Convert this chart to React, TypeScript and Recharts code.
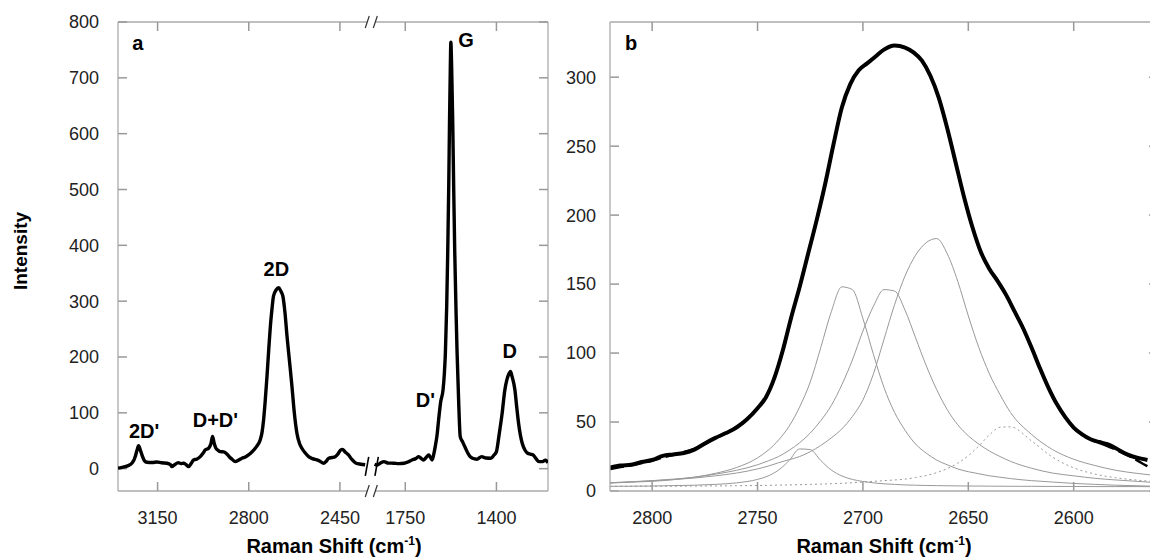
import React from "react";
import { LineChart, Line, XAxis, YAxis, ReferenceLine, ReferenceDot } from "recharts";

// ---------- panel a : full spectrum, x axis broken between ~2350 and ~1870 cm-1
const aHighShift = [3302, 3290, 3274, 3260, 3249, 3240, 3236, 3229, 3223, 3216, 3210, 3200, 3191, 3170, 3153, 3135, 3114, 3100, 3095, 3085, 3070, 3060, 3050, 3040, 3031, 3020, 3012, 3000, 2986, 2975, 2967, 2954, 2945, 2939, 2933, 2926, 2918, 2909, 2896, 2884, 2874, 2864, 2852, 2840, 2826, 2813, 2801, 2788, 2775, 2765, 2756, 2749, 2743, 2737, 2730, 2723, 2717, 2711, 2705, 2695, 2685, 2677, 2669, 2661, 2653, 2643, 2634, 2625, 2615, 2605, 2596, 2583, 2570, 2555, 2538, 2525, 2513, 2503, 2493, 2480, 2468, 2458, 2448, 2440, 2430, 2417, 2405, 2388, 2370, 2353];
const aHighInt = [1, 2, 3.6, 6, 9.7, 16, 21.5, 33, 41, 33, 24.6, 14, 11.5, 11, 12, 10.5, 9.7, 7, 3.6, 7, 10.8, 9, 9.7, 7, 3.6, 10, 15.6, 17, 21.5, 28, 33.6, 36.6, 45, 57.5, 46, 36.6, 33, 30.5, 30, 26.4, 21, 16.9, 12.6, 15, 18.7, 21, 24.6, 30, 36.6, 43, 51.5, 65, 87.4, 120, 165, 215, 255, 285, 309, 320, 324, 318, 309, 280, 237, 190, 147, 100, 63.5, 45, 36.6, 28, 21.5, 18, 15.6, 13, 9.7, 13, 18.7, 20, 21.5, 26, 33, 34.5, 30, 24.6, 17, 9.7, 8, 7];

const aLowShift = [1868, 1858, 1845, 1832, 1815, 1794, 1775, 1755, 1740, 1724, 1710, 1698, 1688, 1679, 1670, 1660, 1653, 1647, 1641, 1635, 1628, 1622, 1614, 1605, 1600, 1596, 1591, 1587, 1583, 1580, 1577, 1575, 1572, 1568, 1564, 1560, 1555, 1551, 1545, 1539, 1530, 1520, 1510, 1501, 1492, 1475, 1457, 1440, 1421, 1410, 1400, 1390, 1378, 1368, 1360, 1352, 1346, 1340, 1329, 1322, 1315, 1308, 1301, 1290, 1280, 1270, 1259, 1248, 1237, 1223, 1212, 1202];
const aLowInt = [8, 6.6, 10, 12.6, 10, 9.7, 9, 9.7, 12, 15.6, 18, 21.5, 18, 15.6, 20, 24.6, 20, 15.6, 25, 39.5, 60, 87.4, 120, 141, 170, 207, 290, 387, 510, 626, 720, 764, 720, 626, 500, 387, 280, 207, 120, 57.5, 48, 38, 28, 21.5, 18.7, 17, 21.5, 19, 18.7, 24, 30.5, 60, 99.5, 140, 159, 170, 174, 165, 141, 110, 81.5, 60, 45.6, 33, 27.6, 26, 24.6, 18, 12.6, 12.6, 15, 10.8];

const aXTicks = [3150, 2800, 2450, 1750, 1400];
const aYTicks = [0, 100, 200, 300, 400, 500, 600, 700, 800];

const aLabels = [
  { text: "a", shift: 3226, value: 762 },
  { text: "2D'", shift: 3202, value: 68 },
  { text: "D+D'", shift: 2928, value: 87 },
  { text: "2D", shift: 2694, value: 358 },
  { text: "D'", shift: 1673, value: 123 },
  { text: "G", shift: 1517, value: 768 },
  { text: "D", shift: 1349, value: 211 },
];

// ---------- panel b : 2D band and its fitted components
const bShift = [2820, 2815, 2810, 2805, 2800, 2795, 2790, 2785, 2780, 2775, 2770, 2765, 2760, 2755, 2750, 2746, 2742, 2738, 2734, 2730, 2726, 2722, 2718, 2714, 2710, 2706, 2702, 2698, 2694, 2690, 2685, 2680, 2676, 2672, 2668, 2664, 2660, 2656, 2652, 2648, 2644, 2640, 2636, 2632, 2628, 2624, 2620, 2616, 2612, 2608, 2604, 2600, 2596, 2592, 2588, 2584, 2580, 2576, 2572, 2568, 2565];
const bData = [17, 18.5, 19, 21, 22.5, 25.5, 26.5, 27.5, 30, 34.5, 38.5, 42, 46, 52, 60, 68, 82, 102, 126, 148, 172, 196, 222, 251, 278, 295, 305, 310, 315, 320, 323, 321.5, 318, 312, 301, 285, 263, 238, 213, 191, 173, 161, 152, 142, 130, 118, 104, 89, 75, 63, 53.5, 46, 41, 37.5, 35.5, 34, 31, 27.5, 25, 23.5, 22.5];
const bFit = [16, 17.3, 18.6, 20.2, 22, 24.2, 26.2, 28.3, 30.5, 34, 38.5, 42, 46.5, 52, 60, 68, 82, 102, 126, 148, 172, 196, 222, 251, 278, 295, 305, 310, 315, 320, 323, 321.5, 318, 312, 301, 285, 263, 238, 213, 191, 173, 161, 152, 142, 130, 118, 104, 89, 75, 63, 53.5, 46, 41, 37.5, 35, 32.5, 30, 27, 24, 20.5, 18];

const compShift = [2820, 2810, 2800, 2790, 2780, 2770, 2760, 2750, 2745, 2740, 2735, 2730, 2725, 2720, 2715, 2710, 2705, 2700, 2695, 2690, 2685, 2680, 2675, 2670, 2665, 2660, 2655, 2650, 2645, 2640, 2635, 2630, 2620, 2610, 2600, 2590, 2580, 2570, 2560];
const peak2727 = [3.4, 3.5, 3.6, 3.9, 4.2, 4.8, 5.9, 8.4, 10.9, 15.2, 22.1, 30.5, 30, 22.1, 15.2, 10.9, 8.4, 6.9, 5.9, 5.2, 4.8, 4.4, 4.2, 4.0, 3.9, 3.8, 3.7, 3.6, 3.6, 3.5, 3.5, 3.4, 3.4, 3.3, 3.3, 3.2, 3.2, 3.2, 3.1];
const peak2708 = [6, 6.5, 7, 8.2, 10, 12.8, 17, 24, 29.5, 37, 47, 61, 79, 104, 130, 148, 146, 125, 99, 75, 57, 44, 34, 27.5, 22.4, 19, 16, 14, 12.5, 11, 10, 9, 7.5, 6.5, 5.5, 4.8, 4.2, 3.8, 3.4];
const peak2688 = [6, 6.7, 7.5, 8.6, 10, 12.2, 15, 19, 21.8, 25, 29.5, 35, 42, 51, 62, 77, 95, 116, 134, 146, 145, 131, 111, 91, 73.5, 59, 48, 40, 34, 29, 25, 21.5, 16.5, 13, 11, 9.2, 8, 7, 6];
const peak2666 = [5.7, 6.5, 7.4, 8.3, 9.4, 11, 13, 16, 18, 20.5, 22.7, 25, 28.5, 33, 38.5, 45, 54, 66, 85, 110, 135, 156, 171, 180, 183, 172, 152, 127, 104, 85, 70, 57, 41, 30, 23, 18.5, 15, 12.8, 11];
const peak2632 = [3.3, 3.4, 3.5, 3.5, 3.6, 3.7, 3.8, 4, 4.1, 4.3, 4.4, 4.6, 4.8, 5, 5.3, 5.6, 6, 6.5, 7, 7.5, 8, 8.6, 9.8, 11.2, 13.3, 16.2, 20.2, 25.6, 32.7, 40.6, 46.2, 46.5, 36.3, 24.5, 16.8, 12.3, 9.6, 7.9, 6.7];

const bXTicks = [2800, 2750, 2700, 2650, 2600];
const bYTicks = [0, 50, 100, 150, 200, 250, 300];

// broken axis: both pieces share one numeric axis in "position" units
const HIGH_START = 3302;
const LOW_OFFSET = 2853;
const BREAK_POS = 967;
const A_MAX = 1651;
const toPos = (s: number) => (s > 2000 ? HIGH_START - s : LOW_OFFSET - s);
const fromPos = (p: number) => (p < BREAK_POS ? HIGH_START - p : LOW_OFFSET - p);

const aHigh = aHighShift.map((s, i) => ({ x: toPos(s), y: aHighInt[i] }));
const aLow = aLowShift.map((s, i) => ({ x: toPos(s), y: aLowInt[i] }));
const bMeasured = bShift.map((s, i) => ({ x: s, y: bData[i] }));
const bFitted = bShift.map((s, i) => ({ x: s, y: bFit[i] }));
const comps = [peak2727, peak2708, peak2688, peak2666].map((arr) =>
  compShift.map((s, i) => ({ x: s, y: arr[i] }))
);
const dottedComp = compShift.map((s, i) => ({ x: s, y: peak2632[i] }));

const FONT = "'Liberation Sans', Arial, Helvetica, sans-serif";
const AXIS = "#aaaaaa";
const TICK = "#999999";
const tickStyle = { fill: "#222", fontSize: 18, fontFamily: FONT };
const labelStyle = { fill: "#000", fontSize: 20, fontWeight: "bold", fontFamily: FONT };

// little "/" marks for the break
const slash = (p: number, v: number, dp: number, dv: number) => [
  { x: p - dp, y: v - dv },
  { x: p + dp, y: v + dv },
];
const GAP_L = 957;
const GAP_R = 988;

// inward tick marks on all four sides; dx / dy = 9px in data units
function tickMarks(key: string, xs: number[], ys: number[], x0: number, x1: number, y0: number, y1: number, dx: number, dy: number) {
  const out: React.ReactElement[] = [];
  xs.forEach((t) => {
    out.push(<ReferenceLine key={key + "xb" + t} segment={[{ x: t, y: y0 }, { x: t, y: y0 + dy }]} stroke={TICK} strokeWidth={1.5} ifOverflow="visible" />);
    out.push(<ReferenceLine key={key + "xt" + t} segment={[{ x: t, y: y1 }, { x: t, y: y1 - dy }]} stroke={TICK} strokeWidth={1.5} ifOverflow="visible" />);
  });
  ys.forEach((t) => {
    out.push(<ReferenceLine key={key + "yl" + t} segment={[{ x: x0, y: t }, { x: x0 + dx, y: t }]} stroke={TICK} strokeWidth={1.5} ifOverflow="visible" />);
    out.push(<ReferenceLine key={key + "yr" + t} segment={[{ x: x1, y: t }, { x: x1 - dx, y: t }]} stroke={TICK} strokeWidth={1.5} ifOverflow="visible" />);
  });
  return out;
}

function PanelA() {
  return (
    <LineChart width={560} height={559} margin={{ top: 22, right: 12, bottom: 0, left: 0 }}>
      <XAxis
        dataKey="x"
        type="number"
        domain={[0, A_MAX]}
        ticks={aXTicks.map(toPos)}
        tickFormatter={(v: number) => String(fromPos(v))}
        interval={0}
        height={68}
        axisLine={false}
        tickLine={false}
        tickSize={0}
        tickMargin={20}
        tick={tickStyle}
        allowDataOverflow
      />
      <YAxis
        type="number"
        domain={[-40, 800]}
        ticks={aYTicks}
        interval={0}
        width={118}
        axisLine={false}
        tickLine={false}
        tickSize={0}
        tickMargin={19}
        tick={tickStyle}
        allowDataOverflow
      />

      {/* frame with a gap at the break */}
      <ReferenceLine x={0} stroke={AXIS} strokeWidth={1.3} ifOverflow="visible" />
      <ReferenceLine x={A_MAX} stroke={AXIS} strokeWidth={1.3} ifOverflow="visible" />
      <ReferenceLine segment={[{ x: 0, y: 800 }, { x: GAP_L, y: 800 }]} stroke={AXIS} strokeWidth={1.3} ifOverflow="visible" />
      <ReferenceLine segment={[{ x: GAP_R, y: 800 }, { x: A_MAX, y: 800 }]} stroke={AXIS} strokeWidth={1.3} ifOverflow="visible" />
      <ReferenceLine segment={[{ x: 0, y: -40 }, { x: GAP_L, y: -40 }]} stroke={AXIS} strokeWidth={1.3} ifOverflow="visible" />
      <ReferenceLine segment={[{ x: GAP_R, y: -40 }, { x: A_MAX, y: -40 }]} stroke={AXIS} strokeWidth={1.3} ifOverflow="visible" />
      {tickMarks("a", aXTicks.map(toPos), aYTicks, 0, A_MAX, -40, 800, 34.5, 16.1)}
      {[GAP_L, GAP_R].map((p) => (
        <ReferenceLine key={"t" + p} segment={slash(p, 800, 7.7, 10.7)} stroke="#333" strokeWidth={1.2} ifOverflow="visible" />
      ))}
      {[GAP_L, GAP_R].map((p) => (
        <ReferenceLine key={"b" + p} segment={slash(p, -40, 7.7, 10.7)} stroke="#333" strokeWidth={1.2} ifOverflow="visible" />
      ))}
      {[956, 993].map((p) => (
        <ReferenceLine key={"c" + p} segment={slash(p, 4, 6.5, 17)} stroke="#000" strokeWidth={1.6} ifOverflow="visible" />
      ))}

      <Line data={aHigh} dataKey="y" type="monotone" stroke="#000" strokeWidth={3.4} dot={false} activeDot={false} isAnimationActive={false} strokeLinejoin="round" />
      <Line data={aLow} dataKey="y" type="monotone" stroke="#000" strokeWidth={3.4} dot={false} activeDot={false} isAnimationActive={false} strokeLinejoin="round" />

      {aLabels.map((l) => (
        <ReferenceDot
          key={l.text}
          x={toPos(l.shift)}
          y={l.value}
          r={1}
          fill="none"
          stroke="none"
          label={{ value: l.text, position: "center", ...labelStyle }}
        />
      ))}
    </LineChart>
  );
}

function PanelB() {
  return (
    <LineChart width={600} height={559} margin={{ top: 22, right: 2, bottom: 0, left: 0 }}>
      <XAxis
        dataKey="x"
        type="number"
        domain={[2560, 2820]}
        reversed
        ticks={bXTicks}
        interval={0}
        height={68}
        stroke={AXIS}
        strokeWidth={1.3}
        tickLine={false}
        tickSize={0}
        tickMargin={20}
        tick={tickStyle}
        allowDataOverflow
      />
      <YAxis
        type="number"
        domain={[0, 340]}
        ticks={bYTicks}
        interval={0}
        width={50}
        stroke={AXIS}
        strokeWidth={1.3}
        tickLine={false}
        tickSize={0}
        tickMargin={14}
        tick={tickStyle}
        allowDataOverflow
      />
      <ReferenceLine y={340} stroke={AXIS} strokeWidth={1.3} ifOverflow="visible" />
      <ReferenceLine x={2560} stroke={AXIS} strokeWidth={1.3} ifOverflow="visible" />
      {tickMarks("b", bXTicks, bYTicks, 2820, 2560, 0, 340, -4.27, 6.5)}

      {comps.map((d, i) => (
        <Line key={i} data={d} dataKey="y" type="monotone" stroke="#999" strokeWidth={1} dot={false} activeDot={false} isAnimationActive={false} />
      ))}
      <Line data={dottedComp} dataKey="y" type="monotone" stroke="#999" strokeWidth={1} strokeDasharray="2 3" dot={false} activeDot={false} isAnimationActive={false} />
      <Line data={bMeasured} dataKey="y" type="monotone" stroke="#000" strokeWidth={4} dot={false} activeDot={false} isAnimationActive={false} strokeLinejoin="round" />
      <Line data={bFitted} dataKey="y" type="monotone" stroke="#000" strokeWidth={2.5} strokeDasharray="14 5" dot={false} activeDot={false} isAnimationActive={false} />

      <ReferenceDot x={2810} y={325} r={1} fill="none" stroke="none" label={{ value: "b", position: "center", ...labelStyle }} />
    </LineChart>
  );
}

const titleStyle: React.CSSProperties = {
  position: "absolute",
  fontFamily: FONT,
  fontWeight: "bold",
  fontSize: 20,
  lineHeight: "20px",
  whiteSpace: "nowrap",
  color: "#000",
};

function RamanTitle({ cx }: { cx: number }) {
  return (
    <div style={{ ...titleStyle, left: cx, top: 536, transform: "translateX(-50%)" }}>
      Raman Shift (cm<sup style={{ fontSize: 12, lineHeight: 0 }}>-1</sup>)
    </div>
  );
}

export default function App() {
  return (
    <div
      style={{
        position: "absolute",
        left: 0,
        top: 0,
        width: 1150,
        height: 559,
        overflow: "hidden",
        background: "#fff",
      }}
    >
      <div style={{ position: "absolute", left: 0, top: 0 }}>
        <PanelA />
      </div>
      <div style={{ position: "absolute", left: 560, top: 0 }}>
        <PanelB />
      </div>
      <div
        style={{
          ...titleStyle,
          fontSize: 19,
          left: 21,
          top: 251,
          transform: "translate(-50%, -50%) rotate(-90deg)",
        }}
      >
        Intensity
      </div>
      <RamanTitle cx={334} />
      <RamanTitle cx={884} />
    </div>
  );
}
